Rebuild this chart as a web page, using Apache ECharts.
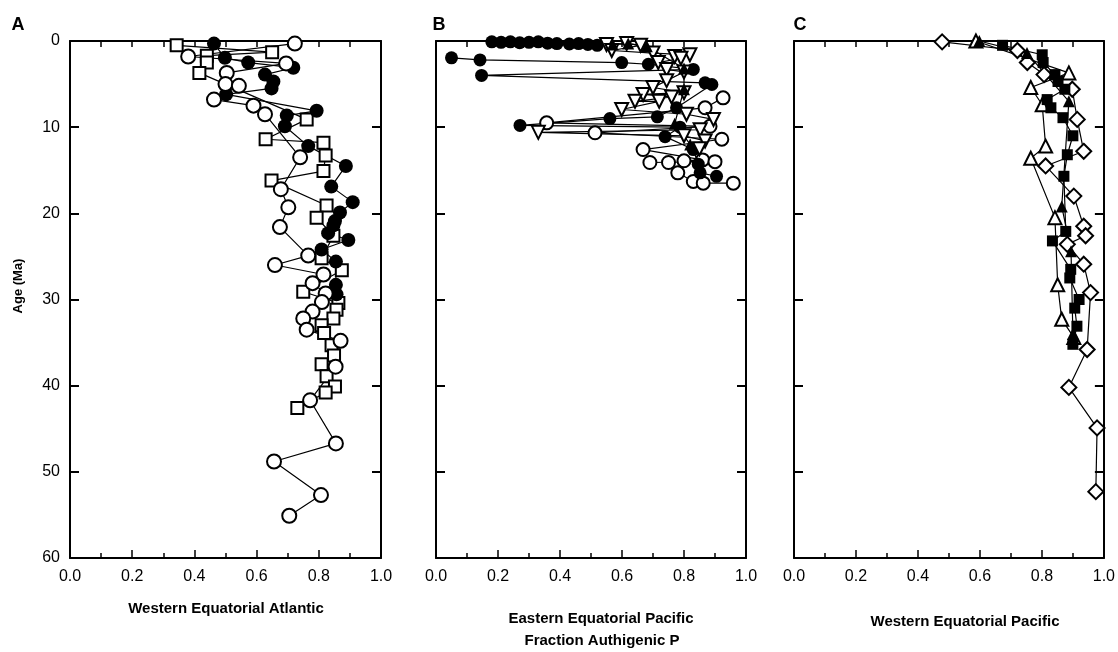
<!DOCTYPE html>
<html>
<head>
<meta charset="utf-8">
<script src="https://cdn.jsdelivr.net/npm/echarts@6/dist/echarts.min.js"></script>
<style>
  html, body { margin: 0; padding: 0; background: #fff; }
  #container { width: 1118px; height: 652px; }
</style>
</head>
<body>
<div id="container"></div>
<script>
// [fraction authigenic P, age in Ma]
// panel A - Western Equatorial Atlantic
const atlOpenCircles = [
  [0.723, 0.3], [0.38, 1.8], [0.695, 2.6], [0.504, 3.7], [0.50, 5.0], [0.543, 5.2],
  [0.463, 6.8], [0.59, 7.5], [0.627, 8.5], [0.74, 13.5], [0.678, 17.2], [0.702, 19.3],
  [0.675, 21.6], [0.766, 24.9], [0.659, 26.0], [0.815, 27.1], [0.78, 28.1], [0.822, 29.3],
  [0.81, 30.3], [0.78, 31.4], [0.75, 32.2], [0.761, 33.5], [0.87, 34.8], [0.854, 37.8],
  [0.772, 41.7], [0.855, 46.7], [0.656, 48.8], [0.807, 52.7], [0.705, 55.1]
];
const atlFilledCircles = [
  [0.463, 0.3], [0.498, 1.95], [0.573, 2.5], [0.718, 3.1], [0.627, 3.9], [0.654, 4.7],
  [0.648, 5.5], [0.502, 6.2], [0.793, 8.1], [0.697, 8.65], [0.691, 9.9], [0.766, 12.2],
  [0.887, 14.5], [0.84, 16.9], [0.909, 18.7], [0.868, 19.9], [0.852, 20.9], [0.847, 21.4],
  [0.83, 22.3], [0.895, 23.1], [0.809, 24.2], [0.855, 25.6], [0.855, 28.3], [0.857, 29.4]
];
const atlOpenSquares = [
  [0.343, 0.5], [0.65, 1.3], [0.44, 1.7], [0.44, 2.5], [0.416, 3.7], [0.761, 9.1],
  [0.629, 11.4], [0.815, 11.8], [0.822, 13.3], [0.815, 15.1], [0.648, 16.2], [0.825, 19.1],
  [0.793, 20.5], [0.847, 22.6], [0.809, 25.2], [0.874, 26.6], [0.75, 29.1], [0.863, 30.4],
  [0.857, 31.2], [0.847, 32.2], [0.809, 33.0], [0.817, 33.9], [0.841, 35.3], [0.849, 36.5],
  [0.809, 37.5], [0.825, 38.9], [0.852, 40.1], [0.822, 40.8], [0.731, 42.6]
];

// panel B - Eastern Equatorial Pacific
const eepFilledTop = [
  [0.18, 0.1], [0.21, 0.15], [0.24, 0.1], [0.27, 0.2], [0.30, 0.15], [0.33, 0.1],
  [0.36, 0.25], [0.39, 0.3], [0.43, 0.35], [0.46, 0.3], [0.49, 0.4], [0.52, 0.5]
];
const eepFilledCircles = [
  [0.05, 1.95], [0.142, 2.2], [0.599, 2.5], [0.685, 2.7], [0.83, 3.3], [0.147, 4.0],
  [0.868, 4.85], [0.89, 5.05], [0.776, 7.75], [0.714, 8.8], [0.561, 9.0], [0.271, 9.8],
  [0.787, 10.0], [0.739, 11.1], [0.83, 12.6], [0.846, 14.3], [0.852, 15.3], [0.905, 15.7]
];
const eepFilledTriangles = [
  [0.57, 0.4], [0.62, 0.3], [0.68, 0.6], [0.80, 3.2], [0.80, 5.6], [0.77, 9.6], [0.82, 12.0]
];
const eepOpenDownTriangles = [
  [0.55, 0.4], [0.615, 0.3], [0.66, 0.5], [0.567, 1.1], [0.70, 1.4], [0.819, 1.6],
  [0.77, 1.8], [0.79, 2.0], [0.717, 2.5], [0.744, 3.3], [0.80, 3.6], [0.744, 4.6],
  [0.70, 5.4], [0.80, 6.0], [0.668, 6.2], [0.76, 6.5], [0.642, 7.0], [0.72, 7.0],
  [0.599, 7.95], [0.808, 8.5], [0.895, 9.1], [0.852, 10.3], [0.33, 10.6], [0.80, 11.0],
  [0.868, 11.6], [0.85, 12.5]
];
const eepOpenCircles = [
  [0.926, 6.6], [0.868, 7.75], [0.357, 9.5], [0.884, 9.9], [0.513, 10.65], [0.922, 11.4],
  [0.668, 12.6], [0.86, 13.8], [0.80, 13.9], [0.90, 14.0], [0.69, 14.1], [0.75, 14.1],
  [0.78, 15.3], [0.83, 16.3], [0.862, 16.5], [0.959, 16.5]
];

// panel C - Western Equatorial Pacific
const wepOpenDiamonds = [
  [0.478, 0.1], [0.721, 1.1], [0.753, 2.5], [0.807, 3.9], [0.898, 5.6], [0.914, 9.1],
  [0.935, 12.8], [0.812, 14.5], [0.903, 18.0], [0.935, 21.5], [0.941, 22.6], [0.882, 23.6],
  [0.935, 25.9], [0.957, 29.2], [0.946, 35.8], [0.887, 40.2], [0.978, 44.9], [0.974, 52.3]
];
const wepOpenTriangles = [
  [0.587, 0.0], [0.887, 3.7], [0.764, 5.4], [0.801, 7.4], [0.812, 12.2], [0.764, 13.6],
  [0.842, 20.5], [0.851, 28.3], [0.864, 32.3], [0.903, 34.4]
];
const wepFilledTriangles = [
  [0.598, 0.0], [0.752, 1.4], [0.887, 7.0], [0.864, 19.2], [0.894, 24.4], [0.90, 34.0]
];
const wepFilledSquares = [
  [0.673, 0.5], [0.801, 1.6], [0.804, 2.5], [0.842, 3.9], [0.852, 4.7], [0.874, 5.6],
  [0.817, 6.8], [0.829, 7.75], [0.868, 8.9], [0.90, 11.0], [0.882, 13.2], [0.871, 15.7],
  [0.877, 22.1], [0.834, 23.2], [0.893, 26.5], [0.89, 27.5], [0.92, 30.0], [0.906, 31.0],
  [0.913, 33.1], [0.90, 35.2]
];

const xTicks = [0, 0.2, 0.4, 0.6, 0.8, 1.0];
const ageTicks = [0, 10, 20, 30, 40, 50, 60];

const font = "'Liberation Sans', Arial, sans-serif";
const panels = [
  { left: 70, width: 311 },
  { left: 436, width: 310 },
  { left: 794, width: 311 }
];

let grid = [], xAxis = [], yAxis = [];
panels.forEach((p, i) => {
  grid.push({ left: p.left, top: 41, width: p.width, height: 517 });
  let frame = { show: true, onZero: false, lineStyle: { color: '#000', width: 2 } };
  xAxis.push({
    type: 'value', gridIndex: i, position: 'bottom', min: xTicks[0], max: xTicks[xTicks.length - 1],
    interval: 0.2, splitLine: { show: false }, axisLine: frame,
    axisTick: { inside: true, length: 8, lineStyle: { color: '#000', width: 1.5 } },
    minorTick: { show: true, splitNumber: 2, length: 5, lineStyle: { color: '#000', width: 1.5 } },
    axisLabel: { color: '#000', fontSize: 16, fontFamily: font, margin: 11, formatter: v => v.toFixed(1) }
  });
  xAxis.push({
    type: 'value', gridIndex: i, position: 'top', min: 0, max: 1, interval: 0.1,
    splitLine: { show: false }, axisLine: frame,
    axisTick: { inside: true, length: 6, lineStyle: { color: '#000', width: 1.5 } },
    axisLabel: { show: false }
  });
  yAxis.push({
    type: 'value', gridIndex: i, position: 'left', inverse: true, min: ageTicks[0], max: ageTicks[ageTicks.length - 1],
    interval: 10, splitLine: { show: false }, axisLine: frame,
    axisTick: { inside: true, length: 9, lineStyle: { color: '#000', width: 2 } },
    axisLabel: { show: i === 0, color: '#000', fontSize: 16, fontFamily: font, margin: 10 }
  });
  yAxis.push({
    type: 'value', gridIndex: i, position: 'right', inverse: true, min: 0, max: 60,
    interval: 10, splitLine: { show: false }, axisLine: frame,
    axisTick: { inside: true, length: 9, lineStyle: { color: '#000', width: 2 } },
    axisLabel: { show: false }
  });
});

function dots(data, panel, symbol, filled, size, rotate) {
  return {
    type: 'line', xAxisIndex: panel * 2, yAxisIndex: panel * 2, data: data,
    symbol: symbol, symbolSize: size, symbolRotate: rotate || 0, showSymbol: true,
    itemStyle: { color: filled ? '#000' : '#fff', borderColor: '#000', borderWidth: filled ? 0 : 2 },
    lineStyle: { color: '#000', width: 1.2 },
    emphasis: { disabled: true }
  };
}

let series = [
  dots(atlOpenSquares, 0, 'rect', false, 12),
  dots(atlFilledCircles, 0, 'circle', true, 14),
  dots(atlOpenCircles, 0, 'circle', false, 14),

  dots(eepFilledTop, 1, 'circle', true, 13),
  dots(eepOpenCircles, 1, 'circle', false, 13),
  dots(eepFilledCircles, 1, 'circle', true, 13),
  dots(eepOpenDownTriangles, 1, 'triangle', false, 13, 180),
  dots(eepFilledTriangles, 1, 'triangle', true, 12),

  dots(wepOpenDiamonds, 2, 'diamond', false, 15),
  dots(wepOpenTriangles, 2, 'triangle', false, 13),
  dots(wepFilledSquares, 2, 'rect', true, 11),
  dots(wepFilledTriangles, 2, 'triangle', true, 12)
];

function label(text, x, y, size, extra) {
  return Object.assign({
    type: 'text', x: x, y: y,
    style: { text: text, fill: '#000', font: 'bold ' + size + 'px ' + font, textAlign: 'center', textVerticalAlign: 'middle' }
  }, extra || {});
}

let graphic = [
  label('A', 18, 25, 18),
  label('B', 439, 25, 18),
  label('C', 800, 25, 18),
  label('Age (Ma)', 18, 286, 13, { rotation: Math.PI / 2 }),
  label('Western Equatorial Atlantic', 226, 609, 15),
  label('Eastern Equatorial Pacific', 601, 619, 15),
  label('Fraction Authigenic P', 602, 641, 15),
  label('Western Equatorial Pacific', 965, 622, 15)
];

let myChart = echarts.init(document.getElementById('container'), null, { renderer: 'canvas' });
myChart.setOption({
  animation: false,
  backgroundColor: '#fff',
  grid: grid,
  xAxis: xAxis,
  yAxis: yAxis,
  series: series,
  graphic: graphic
});
</script>
</body>
</html>
